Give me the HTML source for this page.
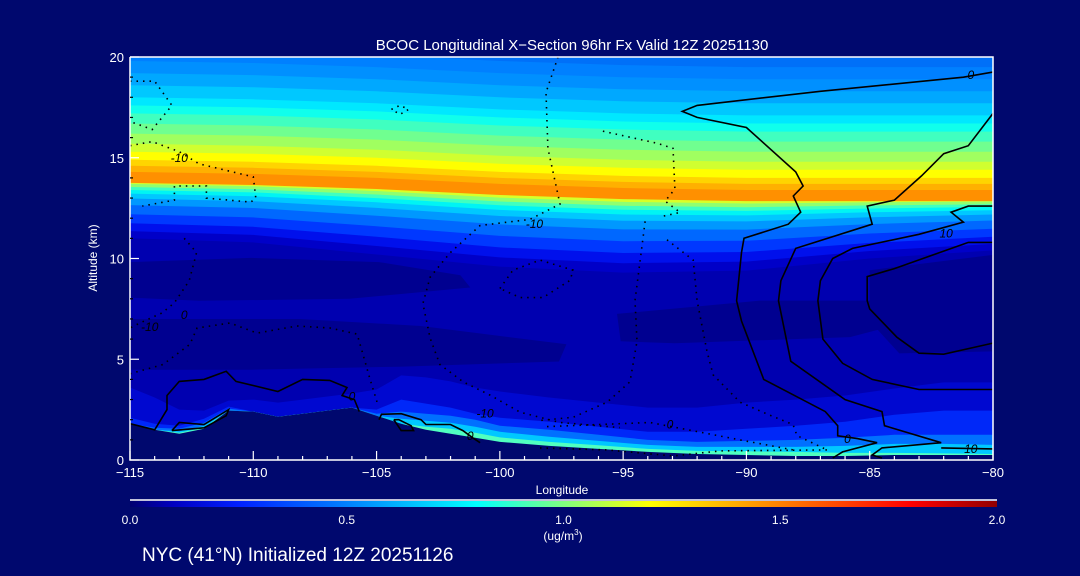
<!DOCTYPE html>
<html><head><meta charset="utf-8">
<style>
html,body{margin:0;padding:0;background:#00086e;}
svg{display:block;}
text{font-family:"Liberation Sans",sans-serif;fill:#fff;}
</style></head>
<body>
<svg id="chart" width="1080" height="576" viewBox="0 0 1080 576" xmlns="http://www.w3.org/2000/svg">
<defs>
<linearGradient id="cbar" x1="0" x2="1" y1="0" y2="0">
<stop offset="0" stop-color="#000070"/><stop offset="0.05" stop-color="#0000c0"/>
<stop offset="0.125" stop-color="#0020ff"/><stop offset="0.25" stop-color="#0080ff"/>
<stop offset="0.4" stop-color="#00ffff"/><stop offset="0.5" stop-color="#80ff80"/>
<stop offset="0.6" stop-color="#ffff00"/><stop offset="0.75" stop-color="#ff8000"/>
<stop offset="0.9" stop-color="#ff0000"/><stop offset="1" stop-color="#900000"/>
</linearGradient>
<clipPath id="plotclip"><rect x="130" y="57" width="863" height="403"/></clipPath>
</defs>
<g id="field" clip-path="url(#plotclip)"></g>
<g id="contours" clip-path="url(#plotclip)"></g>
<g id="axes"></g>
<text x="572" y="50" font-size="15" text-anchor="middle">BCOC Longitudinal X−Section 96hr  Fx Valid 12Z 20251130</text>
<text x="0" y="0" font-size="12" text-anchor="middle" transform="translate(97,258) rotate(-90)">Altitude (km)</text>
<text x="562" y="494" font-size="12" text-anchor="middle">Longitude</text>
<line x1="130" y1="500" x2="997" y2="500" stroke="#fff" stroke-width="1.5"/>
<rect x="130" y="501" width="867" height="6" fill="url(#cbar)"/>
<g id="cbticks"></g>
<text x="563" y="540" font-size="12" text-anchor="middle">(ug/m<tspan font-size="8" dy="-5">3</tspan><tspan dy="5">)</tspan></text>
<text x="142" y="561" font-size="19">NYC (41°N) Initialized 12Z 20251126</text>
</svg>
<script>
// ---- data ----
const upLon = [-115,-110,-105,-100,-95,-90,-85,-80];
const peakAlt = [14.0,13.9,13.7,13.4,13.2,13.1,13.1,13.1];
const baseAlt = [11.0,10.8,10.2,9.6,9.3,9.4,10.0,10.4];
const lowFrac = [0,0.12,0.25,0.4,0.55,0.66,0.74,0.8,0.85,0.9,0.94,0.97];
const lowCol = ['#0000c8','#0010ec','#0038ff','#0068ff','#0098ff','#00c8ff','#00f4f4','#40ffc0','#90ff70','#d8ff28','#ffe000','#ffb400'];
const upOff = [-0.25,0.3,0.6,0.9,1.3,1.7,2.2,2.7,3.2,3.6,4.0,4.6,5.2,5.8,6.4];
const upCol = ['#ff9000','#ffb000','#ffd400','#ffff00','#d0ff30','#a0ff60','#70ff90','#40ffc0','#10ffec','#00e8ff','#00c8ff','#00a8ff','#0090ff','#0080ff','#0070f8'];

const terLon = [-115,-114,-113,-112,-111,-110,-109,-108,-107,-106,-105,-104,-103,-102,-101,-100,-98,-96,-94,-92,-90,-88,-86,-84,-82,-80];
const terrain = [1.8,1.5,1.3,1.55,2.45,2.4,2.15,2.3,2.45,2.6,2.2,1.8,1.5,1.3,1.1,0.9,0.7,0.55,0.4,0.3,0.25,0.2,0.2,0.25,0.25,0.25];
const lay1 = [1.8,1.6,1.2,0.9,0.5,0.6,0.7,0.7,0.7,0.7,1.3,2.4,2.6,2.6,2.5,2.5,2.4,2.3,2.2,2.3,2.6,2.8,3.0,3.3,3.6,3.6];
const lay2 = [0.3,0.3,0.4,0.5,0.2,0,0,0,0,0,0.3,1.2,1.3,1.3,1.2,1.2,1.2,1.1,1.0,1.1,1.3,1.5,1.7,2.0,2.2,2.2];
const lay3 = [0,0.1,0.25,0.3,0.1,0,0,0,0,0,0.1,0.6,0.8,0.9,0.9,0.8,0.8,0.7,0.6,0.6,0.7,0.8,0.9,1.0,1.0,1.0];
const lay4 = [0,0,0.12,0.15,0,0,0,0,0,0,0,0.25,0.45,0.55,0.55,0.5,0.45,0.4,0.35,0.35,0.4,0.45,0.5,0.55,0.55,0.5];
const lay5 = [0,0,0.05,0.05,0,0,0,0,0,0,0,0,0.15,0.25,0.25,0.22,0.2,0.18,0.15,0.15,0.18,0.2,0.15,0.1,0.08,0.05];
const layCol = ['#0008d0','#0028f8','#0070ff','#00c8ff','#50ffc0'];

const patch1 = [[-115,9.82],[-110.1,10.03],[-104.9,9.82],[-101.6,9.17],[-101.2,8.56],[-106.1,8.0],[-112.2,7.9],[-115,8.06]];
const patch2 = [[-115,7.0],[-108.1,7.0],[-103.2,6.65],[-97.3,5.74],[-97.6,4.89],[-104.1,4.63],[-110.1,4.48],[-115,4.48]];
const patch3 = [[-95.25,7.25],[-89.45,7.91],[-85.0,7.91],[-83.0,7.0],[-85.8,6.1],[-92.9,5.79],[-95.1,5.89]];
const patch4 = [[-85.0,9.42],[-80,10.18],[-80,5.39],[-83.8,5.29],[-85.0,6.9]];

const solid1 = [[-80,19.25],[-81.2,19.0],[-87,18.3],[-92,17.6],[-92.6,17.3],[-92,17.0],[-90,16.5],[-88,14.3],[-87.7,13.6],[-88.1,13.1],[-87.8,12.3],[-88.3,11.7],[-90.1,11.0],[-90.2,10.3],[-90.4,7.9],[-90.2,6.9],[-89.3,4.0],[-86.8,2.4],[-86.3,1.7],[-86.3,1.2],[-85.5,1.06],[-84.7,0.86],[-86.1,0.4],[-86.5,0.1]];
const solid2 = [[-80,17.2],[-81,15.6],[-82,15.2],[-82.9,14.1],[-84,12.9],[-85.1,12.6],[-84.9,11.7],[-88,10.5],[-88.6,8.9],[-88.7,7.9],[-88.2,4.9],[-86,3.0],[-84.5,2.4],[-84.4,1.7],[-82.1,0.86],[-84.5,0.6],[-84.9,0.25],[-84.5,0.1]];
const solid3 = [[-80,12.6],[-81,12.6],[-81.7,12.3],[-81.2,11.8],[-83,11.2],[-85.7,10.5],[-86.5,10.0],[-87,8.9],[-87.1,7.9],[-86.9,6.0],[-86.1,4.8],[-84.9,4.0],[-83,3.5],[-80,3.5]];
const solid4 = [[-80,10.8],[-81,10.8],[-84,9.5],[-85.1,9.1],[-85.1,7.9],[-85,7.5],[-83.9,6.1],[-83,5.3],[-82,5.25],[-80,5.8]];
const solid5 = [[-115,1.8],[-114,1.5],[-113.5,2.5],[-113.5,3.2],[-113,3.9],[-112,4.0],[-111.1,4.4],[-110.7,3.9],[-109,3.4],[-108,4.0],[-106.9,3.95],[-106.2,3.6],[-106.4,3.2],[-105.9,3.0],[-105.7,2.4]];
const solid6 = [[-113.3,1.46],[-113,1.86],[-112,1.76],[-111,2.5],[-111.1,2.2],[-112,1.6],[-113.3,1.46]];
const solid7 = [[-104.9,2.0],[-104.8,2.27],[-104,2.3],[-103.2,2.0],[-103,1.76],[-102,1.76],[-101.5,1.46],[-101.1,1.1],[-100.8,0.86]];
const solid8 = [[-104.3,2.0],[-104,1.46],[-103.5,1.46],[-103.6,1.7],[-104.1,2.0],[-104.3,2.0]];
const solid9 = [[-82.1,0.6],[-80,0.55]];
const dot1 = [[-115,18.8],[-114,18.8],[-113.3,17.6],[-114.1,16.4],[-115,16.8]];
const dot2 = [[-115,15.6],[-114.1,15.8],[-113,15.3],[-112.2,14.7],[-110,14.05],[-109.9,13.0],[-110.1,12.8],[-111.9,13.0],[-111.9,13.6],[-113.2,13.6],[-113.2,12.9],[-114.5,12.6]];
const dot3 = [[-97.64,20.0],[-98.13,18.24],[-98.05,15.47],[-97.56,12.7],[-98.78,11.94],[-100.8,11.64],[-102.02,10.28],[-102.83,9.07],[-103.12,7.76],[-102.83,6.05],[-102.43,4.74],[-101.49,3.88],[-100.4,3.22],[-99.18,2.37],[-97.56,1.86],[-95.13,1.61]];
const dot4 = [[-95.82,16.32],[-93.63,15.72],[-92.98,15.47],[-92.9,13.45],[-93.3,12.85],[-92.69,12.29],[-93.42,12.09]];
const dot5 = [[-94.11,11.84],[-94.31,9.92],[-94.52,7.91],[-94.44,5.89],[-94.72,3.88],[-95.65,2.87],[-97.03,2.12],[-98.37,1.96]];
const dot6 = [[-93.22,10.93],[-92.16,9.92],[-92.0,7.91],[-91.6,5.39],[-91.35,4.23],[-90.26,2.87],[-89.04,2.22],[-88.11,1.76],[-87.95,1.21],[-86.73,0.5]];
const dot7 = [[-98.09,1.66],[-93.91,1.86],[-92.41,1.51],[-90.26,1.0],[-88.11,0.5]];
const dot8 = [[-98.37,0.6],[-95.65,0.5],[-92.98,0.2],[-91.07,0.45],[-86.6,0.5]];
const dot9 = [[-115,4.28],[-113.66,4.74],[-112.57,5.74],[-112.28,6.55],[-110.94,6.8],[-109.85,6.3],[-108.23,6.65],[-106.89,6.55],[-105.79,6.25],[-105.55,5.24],[-105.27,4.03],[-104.98,2.87]];
const dot10 = [[-100.0,8.51],[-99.47,9.42],[-98.37,9.92],[-97.03,9.42],[-97.15,8.92],[-98.25,8.06],[-99.18,8.06],[-100.0,8.51]];
const dot11 = [[-112.8,11.0],[-112.3,10.3],[-112.6,8.9],[-113.2,7.8],[-113.7,7.3],[-114.6,6.8],[-115,6.55]];
const dot12 = [[-104.4,17.4],[-104.05,17.6],[-103.7,17.4],[-104.05,17.15],[-104.4,17.4]];
const labels = [['0',-80.9,19.1],['-10',-113,15.0],['10',-81.9,11.25],['-10',-98.6,11.7],['0',-112.8,7.2],['-10',-100.6,2.3],['0',-106.0,3.15],['0',-101.2,1.2],['0',-93.1,1.75],['0',-85.9,1.05],['10',-80.9,0.55],['-10',-114.2,6.6]];
const xTicks = [-115,-110,-105,-100,-95,-90,-85,-80];
const yTicks = [0,5,10,15,20];
const cbTicks = ['0.0','0.5','1.0','1.5','2.0'];

// ---- axis functions ----
const X0=130,X1=993,Y0=460,Y1=57;
function sx(l){return X0+(l+115)/35*(X1-X0);}
function sy(k){return Y0-k/20*(Y0-Y1);}
const NS='http://www.w3.org/2000/svg';
function mk(tag,parent,attrs){const e=document.createElementNS(NS,tag);for(const k in attrs)e.setAttribute(k,attrs[k]);parent.appendChild(e);return e;}
function pts(a){return a.map(p=>sx(p[0]).toFixed(1)+','+sy(p[1]).toFixed(1)).join(' ');}

const field=document.getElementById('field');
let bg=mk('rect',field,{x:X0,y:Y1,width:X1-X0,height:Y0-Y1,fill:'#0000b0'});


[patch1,patch2,patch3,patch4].forEach((p,i)=>{
  const e=mk('polygon',field,{points:pts(p),fill:'#000090'});
  
  
});
const lays=[lay1,lay2,lay3,lay4,lay5];
lays.forEach((L,j)=>{
  const top=terLon.map((l,i)=>[l,terrain[i]+L[i]]);
  const poly=top.concat([[-80,0],[-115,0]]);
  const e=mk('polygon',field,{points:pts(poly),fill:layCol[j]});
  
  
});
{
  const poly=terLon.map((l,i)=>[l,terrain[i]]).concat([[-80,-1],[-115,-1]]);
  const e=mk('polygon',field,{points:pts(poly),fill:'#00086e'});
  
  
}
function bandPoly(alts){
  const b=upLon.map((l,i)=>[l,Math.min(alts[i],20.5)]);
  return [[-115,21]].concat(b).concat([[-80,21]]);
}
lowFrac.forEach((f,j)=>{
  const alts=upLon.map((l,i)=>baseAlt[i]+f*(peakAlt[i]-baseAlt[i]));
  const e=mk('polygon',field,{points:pts(bandPoly(alts)),fill:lowCol[j]});
  
  
});
upOff.forEach((o,j)=>{
  const alts=upLon.map((l,i)=>peakAlt[i]+o);
  const e=mk('polygon',field,{points:pts(bandPoly(alts)),fill:upCol[j]});
  
  
});
const cg=document.getElementById('contours');
[solid1,solid2,solid3,solid4,solid5,solid6,solid7,solid8,solid9].forEach(c=>{
  const e=mk('polyline',cg,{points:pts(c),fill:'none',stroke:'#000','stroke-width':1.6});
  
  
});
[dot1,dot2,dot3,dot4,dot5,dot6,dot7,dot8,dot9,dot10,dot11,dot12].forEach(c=>{
  const e=mk('polyline',cg,{points:pts(c),fill:'none',stroke:'#000','stroke-width':1.6,'stroke-dasharray':'1.5 5'});
  
  
});
labels.forEach(l=>{
  const t=mk('text',cg,{x:sx(l[1]),y:sy(l[2])+4,'font-size':12,'text-anchor':'middle',style:'fill:#000;font-style:italic'});
  t.textContent=l[0];
  
  
});
const ax=document.getElementById('axes');
{
  const e=mk('polyline',ax,{points:`${X0},${Y1} ${X0},${Y0} ${X1},${Y0} ${X1},${Y1} ${X0},${Y1}`,fill:'none',stroke:'#fff','stroke-width':1.5});
  
  
}
for(let l=-115;l<=-80;l++){
  const major=(l%5===0);
  const e=mk('line',ax,{x1:sx(l),x2:sx(l),y1:Y0,y2:Y0-(major?9:4),stroke:'#fff','stroke-width':1.2});
  
  
}
xTicks.forEach(v=>{
  const t=mk('text',ax,{x:sx(v),y:477,'font-size':13,'text-anchor':'middle'});
  t.textContent=String(v).replace('-','−');
  
  
});
for(let k=0;k<=20;k++){
  const major=(k%5===0);
  const e=mk('line',ax,{x1:X0,x2:X0+(major?9:3),y1:sy(k),y2:sy(k),stroke:major?'#fff':'#000','stroke-width':1.2});
  
  
}
yTicks.forEach(v=>{
  const t=mk('text',ax,{x:124,y:sy(v)+5,'font-size':13,'text-anchor':'end'});
  t.textContent=String(v);
  
  
});
const cbt=document.getElementById('cbticks');
cbTicks.forEach((v,i)=>{
  const t=mk('text',cbt,{x:130+i*867/4,y:524,'font-size':12,'text-anchor':'middle'});
  t.textContent=v;
  
  
});
</script>
</body></html>
